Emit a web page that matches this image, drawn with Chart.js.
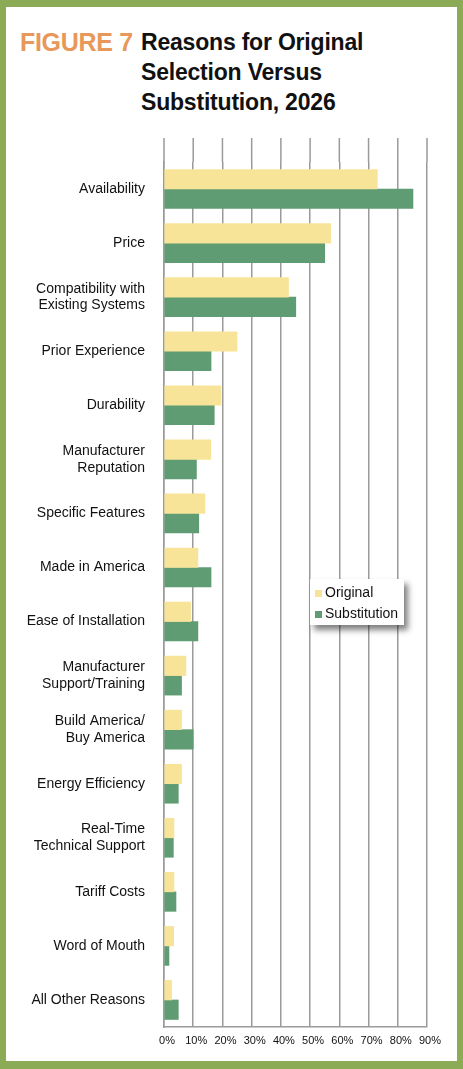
<!DOCTYPE html>
<html>
<head>
<meta charset="utf-8">
<title>Figure 7</title>
<script src="https://cdn.jsdelivr.net/npm/chart.js@4"></script>
<style>
    html, body {
        margin: 0;
        padding: 0;
        background: #fff;
    }
    #frame {
        position: relative;
        width: 463px;
        height: 1069px;
        box-sizing: border-box;
        border-style: solid;
        border-color: #8bab57;
        border-width: 7px 6px 8px 6px;
        overflow: hidden;
        font-family: "Liberation Sans", Arial, sans-serif;
    }
    .fig-num {
        position: absolute;
        left: 14px;
        top: 20px;
        font-size: 25px;
        line-height: 30px;
        font-weight: bold;
        letter-spacing: -0.3px;
        color: #e8985a;
    }
    .fig-title {
        position: absolute;
        left: 135px;
        top: 20px;
        font-size: 23px;
        line-height: 30px;
        font-weight: bold;
        letter-spacing: -0.2px;
        color: #111;
    }
    #chart-wrap {
        position: absolute;
        left: -6px;
        top: 113px;
    }
    #legend {
        position: absolute;
        left: 304px;
        top: 572px;
        width: 94px;
        height: 46px;
        box-sizing: border-box;
        padding: 3px 0 0 5px;
        background: #fff;
        box-shadow: 4px 5px 6px rgba(0, 0, 0, 0.5);
        font-size: 14px;
        line-height: 21px;
        color: #111;
    }
    #legend .sw {
        display: inline-block;
        width: 7px;
        height: 7px;
        margin-right: 3px;
    }
</style>
</head>
<body>
<div id="frame">
    <div class="fig-num">FIGURE 7</div>
    <div class="fig-title">Reasons for Original<br>Selection Versus<br>Substitution, 2026</div>
    <div id="chart-wrap">
        <canvas id="reasons-chart" width="463" height="940" style="width:463px;height:940px;"></canvas>
    </div>
    <div id="legend"></div>
</div>

<script>
// Chart data
const categories = [
    'Availability',
    'Price',
    ['Compatibility with', 'Existing Systems'],
    'Prior Experience',
    'Durability',
    ['Manufacturer', 'Reputation'],
    'Specific Features',
    'Made in America',
    'Ease of Installation',
    ['Manufacturer', 'Support/Training'],
    ['Build America/', 'Buy America'],
    'Energy Efficiency',
    ['Real-Time', 'Technical Support'],
    'Tariff Costs',
    'Word of Mouth',
    'All Other Reasons'
];
const originalValues = [73, 57, 42.6, 25, 19.5, 16, 14, 11.6, 9.1, 7.5, 6, 6, 3.4, 3.4, 3.3, 2.6];
const substitutionValues = [85.2, 55, 45.1, 16.1, 17.2, 11.1, 11.9, 16.1, 11.6, 6, 10, 4.9, 3.2, 4.1, 1.7, 4.9];
const seriesNames = ['Original', 'Substitution'];
const xTickValues = [0, 10, 20, 30, 40, 50, 60, 70, 80, 90];

const seriesColors = ['#f7e498', '#5f9c73'];
const gridColor = '#9a9a9a';

// Extend the vertical gridlines a little above the plot area
const gridExtend = {
    id: 'gridExtend',
    beforeDatasetsDraw(chart) {
        const ctx = chart.ctx;
        const area = chart.chartArea;
        const x = chart.scales.x;
        ctx.save();
        ctx.strokeStyle = gridColor;
        ctx.lineWidth = 1.5;
        x.ticks.forEach(t => {
            const px = x.getPixelForValue(t.value);
            ctx.beginPath();
            ctx.moveTo(px, area.top - 24);
            ctx.lineTo(px, area.top);
            ctx.stroke();
        });
        ctx.restore();
    }
};

// Build the legend box from the datasets
function buildLegend(chart) {
    const box = document.getElementById('legend');
    box.innerHTML = '';
    chart.data.datasets.forEach(ds => {
        const row = document.createElement('div');
        const sw = document.createElement('span');
        sw.className = 'sw';
        sw.style.background = ds.backgroundColor;
        row.appendChild(sw);
        row.appendChild(document.createTextNode(ds.label));
        box.appendChild(row);
    });
}

function initializeChart() {
    const ctx = document.getElementById('reasons-chart').getContext('2d');

    const chart = new Chart(ctx, {
        type: 'bar',
        data: {
            labels: categories,
            datasets: [
                {
                    label: seriesNames[0],
                    data: originalValues,
                    backgroundColor: seriesColors[0],
                    borderWidth: 0,
                    barThickness: 19.5
                },
                {
                    label: seriesNames[1],
                    data: substitutionValues,
                    backgroundColor: seriesColors[1],
                    borderWidth: 0,
                    barThickness: 19.5
                }
            ]
        },
        options: {
            indexAxis: 'y',
            responsive: false,
            animation: false,
            layout: {
                padding: { top: 42, right: 36, bottom: 0, left: 0 }
            },
            scales: {
                x: {
                    position: 'bottom',
                    min: 0,
                    max: 90,
                    afterBuildTicks: scale => {
                        scale.ticks = xTickValues.map(v => ({ value: v }));
                    },
                    afterFit: scale => {
                        scale.height = 33;
                    },
                    grid: {
                        color: gridColor,
                        lineWidth: 1.5,
                        drawTicks: false
                    },
                    border: {
                        color: gridColor,
                        width: 1.5
                    },
                    ticks: {
                        color: '#111',
                        padding: 7,
                        labelOffset: 3,
                        maxRotation: 0,
                        font: { family: '"Liberation Sans", Arial, sans-serif', size: 11 },
                        callback: value => value + '%'
                    }
                },
                y: {
                    afterFit: scale => {
                        scale.width = 164;
                    },
                    grid: {
                        display: false,
                        drawTicks: false
                    },
                    border: {
                        color: gridColor,
                        width: 1.5
                    },
                    ticks: {
                        color: '#111',
                        padding: 19,
                        autoSkip: false,
                        font: { family: '"Liberation Sans", Arial, sans-serif', size: 14, lineHeight: 1.2 }
                    }
                }
            },
            plugins: {
                legend: { display: false },
                tooltip: { enabled: false }
            }
        },
        plugins: [gridExtend]
    });

    buildLegend(chart);
}

document.addEventListener('DOMContentLoaded', function() {
    initializeChart();
});
</script>
</body>
</html>
